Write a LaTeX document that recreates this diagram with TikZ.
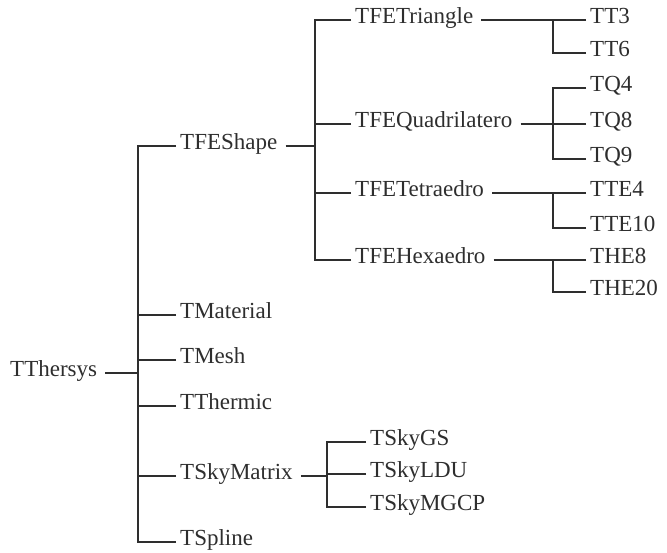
\documentclass[tikz,border=0pt]{standalone}
\usepackage{fontspec}
\setmainfont{Liberation Serif}
\definecolor{ink}{HTML}{2E2E2E}
\begin{document}
\begin{tikzpicture}[x=1pt,y=-1pt,
  tn/.style={anchor=west, inner sep=0pt, text height=0.66em, text depth=0pt, font=\fontsize{23}{26}\selectfont, text=ink},
  ln/.style={draw=ink, line width=1.4pt},
  pl/.style={ln, shorten <=8pt},
  cl/.style={ln, shorten <=4pt}]
\useasboundingbox (0,0) rectangle (667,552);
% nodes
\node[tn] (root) at (10,373) {TThersys};
\node[tn] (shape) at (180,146) {TFEShape};
\node[tn] (material) at (180,315) {TMaterial};
\node[tn] (mesh) at (180,360) {TMesh};
\node[tn] (thermic) at (180,406) {TThermic};
\node[tn] (skymatrix) at (180,476) {TSkyMatrix};
\node[tn] (spline) at (180,542) {TSpline};
\node[tn] (tri) at (355,20) {TFETriangle};
\node[tn] (quad) at (355,124) {TFEQuadrilatero};
\node[tn] (tet) at (355,193) {TFETetraedro};
\node[tn] (hex) at (355,260) {TFEHexaedro};
\node[tn] (tt3) at (590,20) {TT3};
\node[tn] (tt6) at (590,53) {TT6};
\node[tn] (tq4) at (590,88) {TQ4};
\node[tn] (tq8) at (590,124) {TQ8};
\node[tn] (tq9) at (590,159) {TQ9};
\node[tn] (tte4) at (590,193) {TTE4};
\node[tn] (tte10) at (590,228) {TTE10};
\node[tn] (the8) at (590,260) {THE8};
\node[tn] (the20) at (590,292) {THE20};
\node[tn] (skygs) at (370,442) {TSkyGS};
\node[tn] (skyldu) at (370,474) {TSkyLDU};
\node[tn] (skymgcp) at (370,507) {TSkyMGCP};
% junctions
\coordinate (j0) at (138,373);
\coordinate (j1) at (315,146);
\coordinate (jt) at (553,20);
\coordinate (jq) at (553,124);
\coordinate (je) at (553,193);
\coordinate (jh) at (553,260);
\coordinate (js) at (327,476);
% parent lines
\draw[pl] (root.east) -- (j0);
\draw[pl] (shape.east) -- (j1);
\draw[pl] (tri.east) -- (jt);
\draw[pl] (quad.east) -- (jq);
\draw[pl] (tet.east) -- (je);
\draw[pl] (hex.east) -- (jh);
\draw[pl] (skymatrix.east) -- (js);
% child lines
\foreach \c in {shape,material,mesh,thermic,skymatrix,spline} \draw[cl] (\c.west) -| (j0);
\foreach \c in {tri,quad,tet,hex} \draw[cl] (\c.west) -| (j1);
\foreach \c in {tt3,tt6} \draw[cl] (\c.west) -| (jt);
\foreach \c in {tq4,tq8,tq9} \draw[cl] (\c.west) -| (jq);
\foreach \c in {tte4,tte10} \draw[cl] (\c.west) -| (je);
\foreach \c in {the8,the20} \draw[cl] (\c.west) -| (jh);
\foreach \c in {skygs,skyldu,skymgcp} \draw[cl] (\c.west) -| (js);
\end{tikzpicture}
\end{document}
